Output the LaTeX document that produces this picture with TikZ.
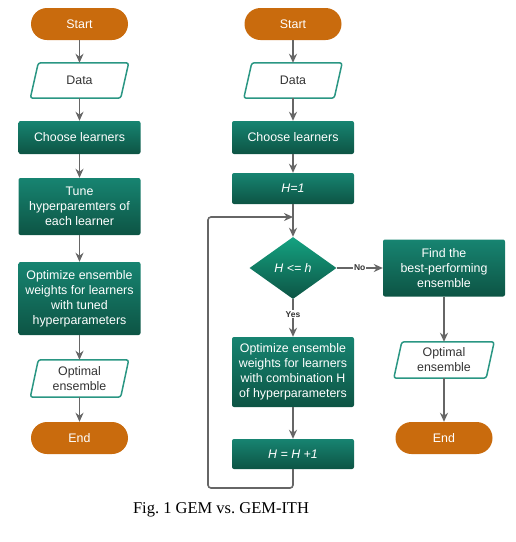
\documentclass[tikz,border=0pt]{standalone}
\usepackage{fontspec}
\setmainfont{Liberation Serif}
\newfontfamily\boxfont{Liberation Sans}
\usetikzlibrary{arrows.meta,shapes.geometric}
\definecolor{termorange}{HTML}{C96B0D}
\definecolor{procTop}{HTML}{178471}
\definecolor{procBot}{HTML}{0D5444}
\definecolor{decTop}{HTML}{14A281}
\definecolor{ioEdge}{HTML}{2A9683}
\definecolor{ioText}{HTML}{333333}
\definecolor{wire}{HTML}{666666}
\tikzset{
  txt/.style={font=\boxfont\fontsize{12.4}{15}\selectfont, align=center, inner sep=2pt},
  terminal/.style={txt, fill=termorange, text=white, rounded corners=16pt,
    minimum width=97pt, minimum height=32pt},
  process/.style={txt, top color=procTop, bottom color=procBot, text=white,
    rounded corners=2pt, minimum width=122pt},
  decision/.style={txt, diamond, top color=decTop, bottom color=procBot, text=white,
    minimum width=87pt, minimum height=62pt, inner sep=0pt},
  iobox/.style={txt, text=ioText, minimum width=90pt, minimum height=35pt},
  ioline/.style={draw=ioEdge, line width=1.5pt, rounded corners=2.5pt},
  arr/.style={draw=wire, line width=1.6pt, -{Stealth[length=9pt,width=8pt]}},
  tag/.style={font=\boxfont\bfseries\fontsize{8.5}{10}\selectfont, text=ioText, fill=white, inner sep=1pt},
}
% slanted frame around an input/output node
\newcommand\ioframe[1]{%
  \draw[ioline] ([xshift=4pt]#1.north west) -- ([xshift=4pt]#1.north east)
    -- ([xshift=-4pt]#1.south east) -- ([xshift=-4pt]#1.south west) -- cycle;}
\begin{document}
\frenchspacing
\begin{tikzpicture}[x=1pt,y=-1pt]
\useasboundingbox (0,0) rectangle (516,542);

% ---- GEM ----
\node[terminal] (s1) at (79.5,24) {Start};
\node[iobox] (d1) at (79.5,80.5) {Data};
\node[process, minimum height=33pt] (c1) at (79.5,137.5) {Choose learners};
\node[process, minimum height=57pt] (t1) at (79.5,206.5) {Tune\\hyperparemters of\\each learner};
\node[process, minimum height=73pt] (o1) at (79.5,298.5) {Optimize ensemble\\weights for learners\\with tuned\\hyperparameters};
\node[iobox, minimum height=37pt] (e1) at (79.5,378.5) {Optimal\\ensemble};
\node[terminal] (n1) at (79.5,438) {End};
\ioframe{d1}
\ioframe{e1}

\draw[arr] (s1) -- (d1);
\draw[arr] (d1) -- (c1);
\draw[arr] (c1) -- (t1);
\draw[arr] (t1) -- (o1);
\draw[arr] (o1) -- (e1);
\draw[arr] (e1) -- (n1);

% ---- GEM-ITH ----
\node[terminal] (s2) at (293,24) {Start};
\node[iobox] (d2) at (293,80.5) {Data};
\node[process, minimum height=33pt] (c2) at (293,137.5) {Choose learners};
\node[process, minimum height=31pt] (h2) at (293,188.5) {\itshape H=1};
\node[decision] (q2) at (293,268) {\itshape H <= h};
\node[process, minimum height=57pt] (f2) at (444,268) {Find the\\best-performing\\ensemble};
\node[process, minimum height=70pt] (o2) at (293,372) {Optimize ensemble\\weights for learners\\with combination H\\of hyperparameters};
\node[process, minimum height=30pt] (u2) at (293,454) {\itshape H = H +1};
\node[iobox, minimum width=92pt, minimum height=36pt] (e2) at (444,360) {Optimal\\ensemble};
\node[terminal] (n2) at (444,438) {End};
\ioframe{d2}
\ioframe{e2}

\coordinate (lb) at (208,488);
\coordinate (lt) at (208,217);

\draw[arr] (s2) -- (d2);
\draw[arr] (d2) -- (c2);
\draw[arr] (c2) -- (h2);
\draw[arr] (h2) -- (q2);
\draw[arr] (q2) -- node[tag] {No} (f2);
\draw[arr] (q2) -- node[tag, pos=0.4] {Yes} (o2);
\draw[arr] (o2) -- (u2);
\draw[arr] (f2) -- (e2);
\draw[arr] (e2) -- (n2);
\draw[arr, rounded corners=3pt] (u2.south) -- (u2.south |- lb) -- (lb) -- (lt) -- (lt -| h2.south);

% ---- caption ----
\node[font=\fontsize{16.5}{19}\selectfont, inner sep=0pt] (cap) at (221,510) {Fig. 1 GEM vs. GEM-ITH};
\end{tikzpicture}
\end{document}
